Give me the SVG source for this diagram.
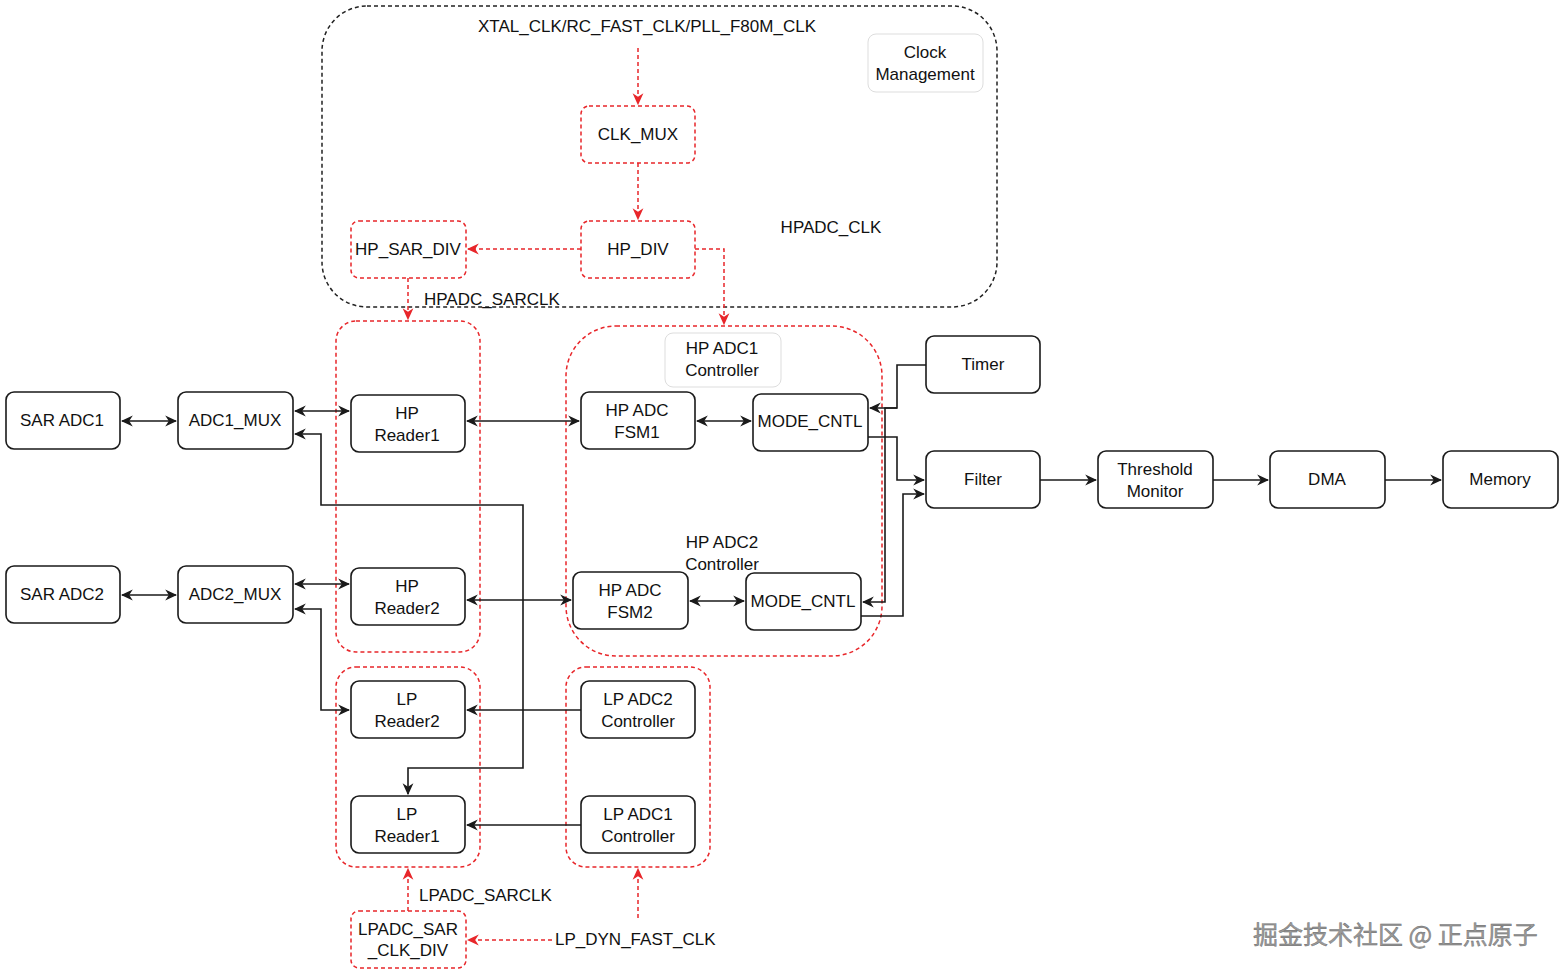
<svg xmlns="http://www.w3.org/2000/svg" width="1565" height="976" viewBox="0 0 1565 976">
<style>
.box{fill:#fff;stroke:#1a1a1a;stroke-width:1.6}
.rbox{fill:none;stroke:#e8262a;stroke-width:1.5;stroke-dasharray:4 3}
.grp{fill:none;stroke:#e8262a;stroke-width:1.5;stroke-dasharray:4 3}
.lbl{fill:#fff;stroke:#ddd;stroke-width:1}
.t{font-family:"Liberation Sans",Arial,sans-serif;font-size:17px;fill:#111;text-anchor:middle;dominant-baseline:central}
.tl{font-family:"Liberation Sans",Arial,sans-serif;font-size:17px;fill:#111;dominant-baseline:central}
.c{fill:none;stroke:#1a1a1a;stroke-width:1.6}
.rc{fill:none;stroke:#e8262a;stroke-width:1.5;stroke-dasharray:4 3}
.wm{font-family:"Noto Sans CJK SC","Noto Sans",sans-serif;font-size:25px;fill:#9a9a9a;stroke:#666;stroke-width:0.4}
</style>
<defs>
<marker id="a" viewBox="0 0 10 10" refX="9" refY="5" markerWidth="12" markerHeight="12" markerUnits="userSpaceOnUse" orient="auto-start-reverse">
<path d="M0,0.5 L10,5 L0,9.5 L3,5 z" fill="#1a1a1a"/>
</marker>
<marker id="ra" viewBox="0 0 10 10" refX="9" refY="5" markerWidth="12" markerHeight="12" markerUnits="userSpaceOnUse" orient="auto-start-reverse">
<path d="M0,0.5 L10,5 L0,9.5 L3,5 z" fill="#e8262a"/>
</marker>
</defs>
<rect width="1565" height="976" fill="#fff"/>

<g id="containers">
<rect x="322" y="6" width="675" height="301" rx="45" fill="none" stroke="#222" stroke-width="1.5" stroke-dasharray="4 3"/>
<rect class="grp" x="336" y="321" width="144" height="331" rx="20"/>
<rect class="grp" x="566" y="326" width="316" height="330" rx="50"/>
<rect class="grp" x="336" y="667" width="144" height="200" rx="20"/>
<rect class="grp" x="566" y="667" width="144" height="200" rx="20"/>
</g>

<g id="connectors">
<path class="rc" d="M638,48 V104" marker-end="url(#ra)"/>
<path class="rc" d="M638,163 V219" marker-end="url(#ra)"/>
<path class="rc" d="M581,249 H468" marker-end="url(#ra)"/>
<path class="rc" d="M695,249 H724 V324" marker-end="url(#ra)"/>
<path class="rc" d="M408,278 V319" marker-end="url(#ra)"/>
<path class="rc" d="M408,911 V869" marker-end="url(#ra)"/>
<path class="rc" d="M638,918 V869" marker-end="url(#ra)"/>
<path class="rc" d="M552,940 H468" marker-end="url(#ra)"/>

<path class="c" d="M122,421 H176" marker-start="url(#a)" marker-end="url(#a)"/>
<path class="c" d="M122,595 H176" marker-start="url(#a)" marker-end="url(#a)"/>
<path class="c" d="M295,411 H349" marker-start="url(#a)" marker-end="url(#a)"/>
<path class="c" d="M295,584 H349" marker-start="url(#a)" marker-end="url(#a)"/>
<path class="c" d="M467,421 H579" marker-start="url(#a)" marker-end="url(#a)"/>
<path class="c" d="M467,600 H571" marker-start="url(#a)" marker-end="url(#a)"/>
<path class="c" d="M697,421 H751" marker-start="url(#a)" marker-end="url(#a)"/>
<path class="c" d="M690,601 H744" marker-start="url(#a)" marker-end="url(#a)"/>
<path class="c" d="M295,434 H321 V505 H523 V768 H408 V794" marker-start="url(#a)" marker-end="url(#a)"/>
<path class="c" d="M295,609 H321 V710 H349" marker-start="url(#a)" marker-end="url(#a)"/>
<path class="c" d="M926,365 H897 V408 H870" marker-end="url(#a)"/>
<path class="c" d="M897,408 H885 V602 H863" marker-end="url(#a)"/>
<path class="c" d="M868,437 H897 V480 H924" marker-end="url(#a)"/>
<path class="c" d="M861,616 H903 V494 H924" marker-end="url(#a)"/>
<path class="c" d="M1040,480 H1096" marker-end="url(#a)"/>
<path class="c" d="M1213,480 H1268" marker-end="url(#a)"/>
<path class="c" d="M1385,480 H1441" marker-end="url(#a)"/>
<path class="c" d="M581,710 H467" marker-end="url(#a)"/>
<path class="c" d="M581,825 H467" marker-end="url(#a)"/>
</g>

<g id="labels">
<text class="t" x="647" y="26">XTAL_CLK/RC_FAST_CLK/PLL_F80M_CLK</text>
<text class="t" x="831" y="227">HPADC_CLK</text>
<text class="tl" x="424" y="299">HPADC_SARCLK</text>
<text class="tl" x="419" y="895">LPADC_SARCLK</text>
<text class="tl" x="555" y="939">LP_DYN_FAST_CLK</text>
<text class="t" x="722" y="542">HP ADC2</text>
<text class="t" x="722" y="564">Controller</text>
</g>

<g id="clock-mgmt"><rect class="lbl" x="868" y="34" width="115" height="58" rx="8"/><text class="t" x="925" y="52">Clock</text><text class="t" x="925" y="74">Management</text></g>
<g id="hp-adc1-ctrl"><rect class="lbl" x="665" y="333" width="116" height="54" rx="8"/><text class="t" x="722" y="348">HP ADC1</text><text class="t" x="722" y="370">Controller</text></g>

<g id="clk-mux"><rect class="rbox" x="581" y="106" width="114" height="57" rx="8"/><text class="t" x="638" y="134">CLK_MUX</text></g>
<g id="hp-div"><rect class="rbox" x="581" y="221" width="114" height="57" rx="8"/><text class="t" x="638" y="249">HP_DIV</text></g>
<g id="hp-sar-div"><rect class="rbox" x="351" y="221" width="115" height="57" rx="8"/><text class="t" x="408" y="249">HP_SAR_DIV</text></g>
<g id="lpadc-sar-clk-div"><rect class="rbox" x="351" y="911" width="115" height="57" rx="8"/><text class="t" x="408" y="929">LPADC_SAR</text><text class="t" x="408" y="950">_CLK_DIV</text></g>

<g id="sar-adc1"><rect class="box" x="6" y="392" width="114" height="57" rx="8"/><text class="t" x="62" y="420">SAR ADC1</text></g>
<g id="adc1-mux"><rect class="box" x="178" y="392" width="115" height="57" rx="8"/><text class="t" x="235" y="420">ADC1_MUX</text></g>
<g id="hp-reader1"><rect class="box" x="351" y="395" width="114" height="57" rx="8"/><text class="t" x="407" y="413">HP</text><text class="t" x="407" y="435">Reader1</text></g>
<g id="sar-adc2"><rect class="box" x="6" y="566" width="114" height="57" rx="8"/><text class="t" x="62" y="594">SAR ADC2</text></g>
<g id="adc2-mux"><rect class="box" x="178" y="566" width="115" height="57" rx="8"/><text class="t" x="235" y="594">ADC2_MUX</text></g>
<g id="hp-reader2"><rect class="box" x="351" y="568" width="114" height="57" rx="8"/><text class="t" x="407" y="586">HP</text><text class="t" x="407" y="608">Reader2</text></g>

<g id="hp-adc-fsm1"><rect class="box" x="581" y="392" width="114" height="57" rx="8"/><text class="t" x="637" y="410">HP ADC</text><text class="t" x="637" y="432">FSM1</text></g>
<g id="mode-cntl1"><rect class="box" x="753" y="394" width="115" height="57" rx="8"/><text class="t" x="810" y="421">MODE_CNTL</text></g>
<g id="hp-adc-fsm2"><rect class="box" x="573" y="572" width="115" height="57" rx="8"/><text class="t" x="630" y="590">HP ADC</text><text class="t" x="630" y="612">FSM2</text></g>
<g id="mode-cntl2"><rect class="box" x="746" y="573" width="115" height="57" rx="8"/><text class="t" x="803" y="601">MODE_CNTL</text></g>

<g id="timer"><rect class="box" x="926" y="336" width="114" height="57" rx="8"/><text class="t" x="983" y="364">Timer</text></g>
<g id="filter"><rect class="box" x="926" y="451" width="114" height="57" rx="8"/><text class="t" x="983" y="479">Filter</text></g>
<g id="threshold-monitor"><rect class="box" x="1098" y="451" width="115" height="57" rx="8"/><text class="t" x="1155" y="469">Threshold</text><text class="t" x="1155" y="491">Monitor</text></g>
<g id="dma"><rect class="box" x="1270" y="451" width="115" height="57" rx="8"/><text class="t" x="1327" y="479">DMA</text></g>
<g id="memory"><rect class="box" x="1443" y="451" width="115" height="57" rx="8"/><text class="t" x="1500" y="479">Memory</text></g>

<g id="lp-reader2"><rect class="box" x="351" y="681" width="114" height="57" rx="8"/><text class="t" x="407" y="699">LP</text><text class="t" x="407" y="721">Reader2</text></g>
<g id="lp-reader1"><rect class="box" x="351" y="796" width="114" height="57" rx="8"/><text class="t" x="407" y="814">LP</text><text class="t" x="407" y="836">Reader1</text></g>
<g id="lp-adc2-ctrl"><rect class="box" x="581" y="681" width="114" height="57" rx="8"/><text class="t" x="638" y="699">LP ADC2</text><text class="t" x="638" y="721">Controller</text></g>
<g id="lp-adc1-ctrl"><rect class="box" x="581" y="796" width="114" height="57" rx="8"/><text class="t" x="638" y="814">LP ADC1</text><text class="t" x="638" y="836">Controller</text></g>

<g id="watermark"><text class="wm" x="1253" y="944">掘金技术社区 @ 正点原子</text></g>
</svg>
